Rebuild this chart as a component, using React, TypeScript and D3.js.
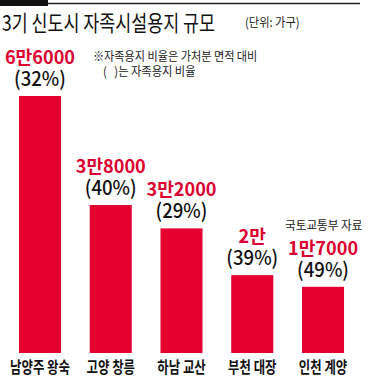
import React from "react";
import * as d3 from "d3";

const categories = ["남양주 왕숙", "고양 창릉", "하남 교산", "부천 대장", "인천 계양"];
const values = [66000, 38000, 32000, 20000, 17000];
const valueLabels = ["6만6000", "3만8000", "3만2000", "2만", "1만7000"];
const ratios = [32, 40, 29, 39, 49];

const W = 388;
const H = 383;
const RED = "#e4002f";
const TEXT_RED = "#dc0030";
const FONT = "'Noto Sans CJK KR', 'Noto Sans', sans-serif";

export default function App() {
  const x = d3.scaleBand<string>().domain(categories).range([4.6, 358.4]).paddingInner(0.406).paddingOuter(0.203);
  const y = d3.scaleLinear().domain([0, 66000]).range([353, 96]);
  const bw = x.bandwidth();

  return (
    <svg
      width={W}
      height={H}
      viewBox={`0 0 ${W} ${H}`}
      style={{ position: "absolute", left: 0, top: 0, background: "#fff" }}
      fontFamily={FONT}
    >
      <rect x={0} y={0} width={W} height={H} fill="#fff" />
      {/* header rule */}
      <rect x={0} y={0} width={48} height={6} fill="#111" />
      <line x1={48} x2={360} y1={3.5} y2={3.5} stroke="#222" strokeWidth={1.4} />

      {/* title */}
      <text transform="translate(2,31) scale(0.79,1)" fontSize={22} fill="#111">
        3기 신도시 자족시설용지 규모
      </text>
      <text transform="translate(245,27) scale(0.9,1)" fontSize={12.5} fill="#222">
        (단위: 가구)
      </text>

      {/* notes */}
      <text transform="translate(93,61) scale(0.89,1)" fontSize={12.5} fill="#222">
        ※자족용지 비율은 가처분 면적 대비
      </text>
      <text transform="translate(103,76) scale(0.9,1)" fontSize={12.5} fill="#222" style={{ whiteSpace: "pre" }}>
        {"(   )는 자족용지 비율"}
      </text>

      {/* bars */}
      {categories.map((c, i) => (
        <rect key={c} x={x(c)} y={y(values[i])} width={bw} height={y(0) - y(values[i])} fill={RED} />
      ))}

      {/* labels */}
      {categories.map((c, i) => {
        const cx = (x(c) as number) + bw / 2;
        const top = y(values[i]);
        return (
          <g key={"l" + c}>
            <text
              transform={`translate(${cx},${top - 32}) scale(0.98,1)`}
              textAnchor="middle"
              fontSize={18.5}
              fontWeight={700}
              fill={TEXT_RED}
            >
              {valueLabels[i]}
            </text>
            <text
              transform={`translate(${cx},${top - 10}) scale(0.93,1)`}
              textAnchor="middle"
              fontSize={20}
              fontWeight={500}
              fill="#111"
            >
              {`(${ratios[i]}%)`}
            </text>
            <text
              transform={`translate(${cx},373) scale(0.8,1)`}
              textAnchor="middle"
              fontSize={15.5}
              fontWeight={700}
              fill="#111"
            >
              {c}
            </text>
          </g>
        );
      })}

      {/* source */}
      <text transform="translate(285,230) scale(0.97,1)" fontSize={12} fill="#222">
        국토교통부 자료
      </text>
    </svg>
  );
}
